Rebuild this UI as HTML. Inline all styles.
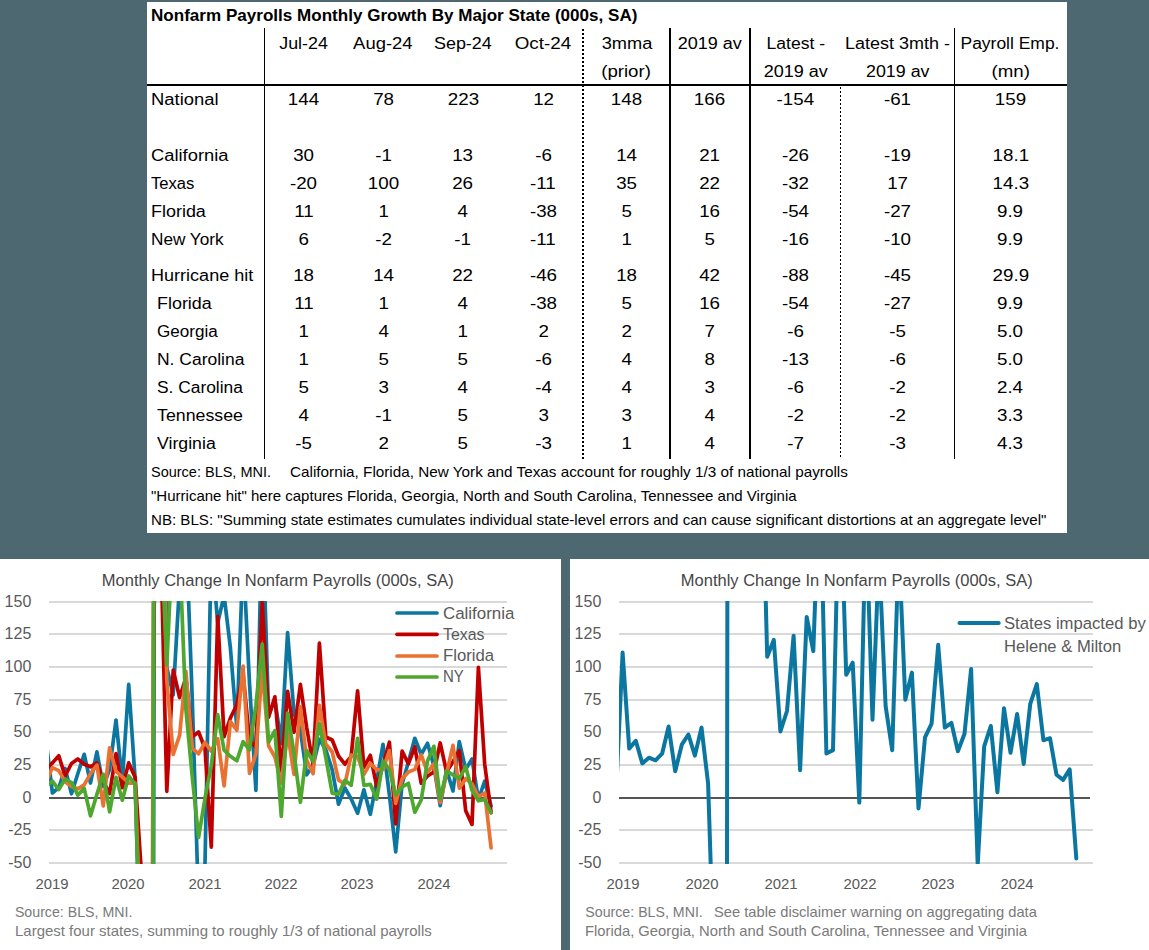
<!DOCTYPE html>
<html><head><meta charset="utf-8"><title>Nonfarm Payrolls Monthly Growth By Major State</title>
<style>
html,body{margin:0;padding:0;}
body{width:1149px;height:950px;background:#4d6870;position:relative;overflow:hidden;font-family:"Liberation Sans",sans-serif;}
.panel{position:absolute;background:#fff;}
.t{position:absolute;white-space:nowrap;color:#000;line-height:1;}
.g{color:#595959;}
.g2{color:#7a7a7a;}
.g3{color:#454545;}
svg{position:absolute;left:0;top:0;}
</style></head><body>
<div class="panel" style="left:147px;top:2px;width:920px;height:531px;"></div>
<div class="panel" style="left:0;top:559px;width:561px;height:391px;"></div>
<div class="panel" style="left:570px;top:559px;width:579px;height:391px;"></div>
<svg width="1149" height="950" viewBox="0 0 1149 950">
<defs><clipPath id="cl"><rect x="49" y="601" width="458" height="263"/></clipPath>
<clipPath id="cr"><rect x="619" y="601" width="474" height="263"/></clipPath></defs>
<g stroke="#000" fill="none" shape-rendering="crispEdges">
<line x1="264.5" y1="28" x2="264.5" y2="459" stroke-width="1"/>
<line x1="670" y1="28" x2="670" y2="459" stroke-width="2"/>
<line x1="750" y1="28" x2="750" y2="459" stroke-width="2"/>
<line x1="954.5" y1="28" x2="954.5" y2="459" stroke-width="1"/>
<line x1="147" y1="85" x2="1067" y2="85" stroke-width="2"/>
<line x1="583" y1="29" x2="583" y2="459" stroke-width="2" stroke-dasharray="2 2"/>
<line x1="840.5" y1="87" x2="840.5" y2="459" stroke-width="1" stroke-dasharray="2 2"/>
</g>
<g shape-rendering="crispEdges">
<rect x="49" y="601" width="458" height="2" fill="#d9d9d9"/>
<rect x="619" y="601" width="474" height="2" fill="#d9d9d9"/>
<rect x="49" y="633" width="458" height="2" fill="#d9d9d9"/>
<rect x="619" y="633" width="474" height="2" fill="#d9d9d9"/>
<rect x="49" y="666" width="458" height="2" fill="#d9d9d9"/>
<rect x="619" y="666" width="474" height="2" fill="#d9d9d9"/>
<rect x="49" y="699" width="458" height="2" fill="#d9d9d9"/>
<rect x="619" y="699" width="474" height="2" fill="#d9d9d9"/>
<rect x="49" y="731" width="458" height="2" fill="#d9d9d9"/>
<rect x="619" y="731" width="474" height="2" fill="#d9d9d9"/>
<rect x="49" y="764" width="458" height="2" fill="#d9d9d9"/>
<rect x="619" y="764" width="474" height="2" fill="#d9d9d9"/>
<rect x="49" y="829" width="458" height="2" fill="#d9d9d9"/>
<rect x="619" y="829" width="474" height="2" fill="#d9d9d9"/>
<rect x="49" y="862" width="458" height="2" fill="#d9d9d9"/>
<rect x="619" y="862" width="474" height="2" fill="#d9d9d9"/>
</g>
<g shape-rendering="crispEdges"><rect x="49" y="797" width="456" height="2" fill="#555"/><rect x="619" y="797" width="471" height="2" fill="#555"/></g>
<polyline clip-path="url(#cl)" fill="none" stroke="#0b76a0" stroke-width="3.7" stroke-linejoin="round" stroke-linecap="round" points="46.0,739.3 52.4,793.0 58.8,787.7 65.1,768.4 71.5,793.8 77.8,773.7 84.2,754.3 90.5,783.0 96.9,751.9 103.3,786.4 109.6,769.4 116.0,720.0 122.3,781.6 128.7,684.4 135.1,778.6 141.4,1007.5 147.8,3937.4 154.1,615.1 160.5,91.9 166.8,667.4 173.2,694.9 179.6,583.7 185.9,528.8 192.3,700.1 198.6,906.8 205.0,863.6 211.3,545.8 217.7,622.9 224.1,595.5 230.4,647.8 236.8,727.6 243.1,554.9 249.5,683.1 255.9,790.4 262.2,507.8 268.6,714.5 274.9,700.1 281.3,743.3 287.6,632.7 294.0,713.2 300.4,730.2 306.7,774.8 313.1,765.5 319.4,739.3 325.8,749.8 332.2,769.9 338.5,804.2 344.9,788.0 351.2,799.0 357.6,813.2 363.9,789.8 370.3,814.3 376.7,781.2 383.0,744.3 389.4,795.1 395.7,851.8 402.1,783.9 408.4,762.1 414.8,738.3 421.2,754.5 427.5,743.3 433.9,766.0 440.2,805.7 446.6,770.1 453.0,791.0 459.3,741.6 465.7,769.4 472.0,759.0 478.4,799.5 484.7,781.2 491.1,806.0"/>
<polyline clip-path="url(#cl)" fill="none" stroke="#c00000" stroke-width="3.7" stroke-linejoin="round" stroke-linecap="round" points="46.0,769.4 52.4,762.9 58.8,755.8 65.1,776.0 71.5,763.5 77.8,759.0 84.2,764.2 90.5,766.8 96.9,762.9 103.3,781.6 109.6,793.5 116.0,753.7 122.3,787.7 128.7,762.9 135.1,777.3 141.4,872.8 147.8,2498.6 154.1,471.2 160.5,532.7 166.8,791.3 173.2,670.0 179.6,697.5 185.9,677.9 192.3,736.7 198.6,732.0 205.0,748.5 211.3,847.2 217.7,616.4 224.1,736.7 230.4,718.0 236.8,704.9 243.1,673.9 249.5,740.0 255.9,747.2 262.2,602.0 268.6,717.1 274.9,696.8 281.3,772.0 287.6,691.3 294.0,732.3 300.4,684.4 306.7,727.8 313.1,764.2 319.4,643.2 325.8,737.0 332.2,740.0 338.5,756.0 344.9,764.2 351.2,756.3 357.6,690.8 363.9,767.2 370.3,755.3 376.7,786.3 383.0,765.5 389.4,742.2 395.7,823.8 402.1,751.2 408.4,763.8 414.8,746.8 421.2,783.3 427.5,776.0 433.9,772.0 440.2,743.0 446.6,772.0 453.0,761.6 459.3,750.6 465.7,810.8 472.0,824.4 478.4,667.4 484.7,764.2 491.1,812.6"/>
<polyline clip-path="url(#cl)" fill="none" stroke="#e97132" stroke-width="3.7" stroke-linejoin="round" stroke-linecap="round" points="46.0,782.5 52.4,767.6 58.8,770.7 65.1,781.7 71.5,786.4 77.8,788.8 84.2,784.9 90.5,773.7 96.9,765.1 103.3,806.0 109.6,747.8 116.0,771.4 122.3,776.9 128.7,783.2 135.1,783.2 141.4,955.2 147.8,2237.0 154.1,405.8 160.5,405.8 166.8,680.5 173.2,754.5 179.6,735.4 185.9,671.3 192.3,748.5 198.6,753.7 205.0,742.5 211.3,751.1 217.7,738.6 224.1,785.8 230.4,721.7 236.8,730.2 243.1,666.2 249.5,773.3 255.9,754.0 262.2,668.7 268.6,745.9 274.9,757.0 281.3,783.0 287.6,732.8 294.0,774.3 300.4,706.8 306.7,760.3 313.1,773.7 319.4,705.3 325.8,744.0 332.2,752.0 338.5,779.9 344.9,784.3 351.2,755.0 357.6,756.3 363.9,774.3 370.3,763.3 376.7,769.8 383.0,769.4 389.4,750.7 395.7,803.3 402.1,779.0 408.4,772.0 414.8,769.4 421.2,754.8 427.5,772.3 433.9,763.8 440.2,802.5 446.6,773.3 453.0,745.4 459.3,788.1 465.7,778.6 472.0,783.8 478.4,796.9 484.7,793.0 491.1,847.9"/>
<polyline clip-path="url(#cl)" fill="none" stroke="#4ea72e" stroke-width="3.7" stroke-linejoin="round" stroke-linecap="round" points="46.0,786.4 52.4,781.2 58.8,789.6 65.1,779.0 71.5,782.5 77.8,795.1 84.2,788.4 90.5,815.9 96.9,794.3 103.3,774.3 109.6,811.8 116.0,777.3 122.3,800.2 128.7,776.0 135.1,784.1 141.4,982.6 147.8,3152.6 154.1,405.8 160.5,520.9 166.8,664.8 173.2,526.1 179.6,552.3 185.9,709.3 192.3,777.3 198.6,837.4 205.0,798.2 211.3,765.5 217.7,714.7 224.1,750.1 230.4,756.3 236.8,760.8 243.1,741.7 249.5,749.8 255.9,705.3 262.2,644.2 268.6,742.0 274.9,730.7 281.3,816.3 287.6,713.2 294.0,753.1 300.4,802.3 306.7,750.7 313.1,761.3 319.4,723.8 325.8,757.7 332.2,793.2 338.5,794.3 344.9,780.3 351.2,785.3 357.6,738.3 363.9,785.3 370.3,784.3 376.7,799.2 383.0,761.3 389.4,769.9 395.7,794.8 402.1,787.0 408.4,783.3 414.8,812.3 421.2,800.0 427.5,761.1 433.9,746.3 440.2,798.9 446.6,771.0 453.0,774.8 459.3,778.6 465.7,766.7 472.0,790.4 478.4,800.8 484.7,799.5 491.1,812.6"/>
<polyline clip-path="url(#cr)" fill="none" stroke="#0b76a0" stroke-width="4" stroke-linejoin="round" stroke-linecap="round" points="616.0,795.6 622.6,652.6 629.2,748.6 635.8,740.8 642.3,763.4 648.9,757.7 655.5,760.3 662.1,753.7 668.6,726.5 675.2,771.3 681.8,744.7 688.4,734.5 694.9,755.6 701.5,727.6 708.1,783.4 714.6,985.2 721.2,5114.6 727.8,275.0 734.4,275.0 741.0,275.0 747.5,275.0 754.1,340.4 760.7,405.8 767.2,656.8 773.8,639.9 780.4,731.4 787.0,711.0 793.6,635.7 800.1,770.2 806.7,616.9 813.3,651.1 819.9,471.2 826.4,753.5 833.0,750.1 839.6,460.7 846.2,674.7 852.7,662.7 859.3,802.6 865.9,514.4 872.5,719.7 879.0,553.6 885.6,705.9 892.2,750.3 898.8,545.8 905.3,699.7 911.9,672.6 918.5,808.4 925.0,737.4 931.6,723.6 938.2,644.8 944.8,727.6 951.4,722.9 957.9,751.2 964.5,733.7 971.1,669.1 977.7,864.9 984.2,746.3 990.8,726.0 997.4,792.3 1004.0,708.2 1010.5,752.8 1017.1,714.0 1023.7,763.9 1030.2,704.2 1036.8,684.1 1043.4,740.3 1050.0,738.2 1056.5,774.7 1063.1,779.9 1069.7,769.4 1076.3,858.4"/>
<g stroke-width="3.7" stroke-linecap="round" fill="none">
<line x1="397" y1="613.0" x2="437" y2="613.0" stroke="#0b76a0"/>
<line x1="397" y1="634.3" x2="437" y2="634.3" stroke="#c00000"/>
<line x1="397" y1="656.0" x2="437" y2="656.0" stroke="#e97132"/>
<line x1="397" y1="677.0" x2="437" y2="677.0" stroke="#4ea72e"/>
<line x1="959.5" y1="623.1" x2="998.7" y2="623.1" stroke="#0b76a0" stroke-width="4"/>
</g>
</svg>
<div class="t " style="left:150.5px;top:7.2px;font-size:17.3px;transform:scaleX(0.9875);transform-origin:left center;font-weight:bold;">Nonfarm Payrolls Monthly Growth By Major State (000s, SA)</div>
<div class="t " style="left:280.2px;top:35.1px;font-size:17.3px;transform:scaleX(1.0335);transform-origin:center center;">Jul-24</div>
<div class="t " style="left:355.4px;top:35.1px;font-size:17.3px;transform:scaleX(1.0684);transform-origin:center center;">Aug-24</div>
<div class="t " style="left:435.1px;top:35.1px;font-size:17.3px;transform:scaleX(1.0379);transform-origin:center center;">Sep-24</div>
<div class="t " style="left:517.3px;top:35.1px;font-size:17.3px;transform:scaleX(1.0902);transform-origin:center center;">Oct-24</div>
<div class="t " style="left:602.5px;top:35.1px;font-size:17.3px;transform:scaleX(1.0548);transform-origin:center center;">3mma</div>
<div class="t " style="left:678.8px;top:35.1px;font-size:17.3px;transform:scaleX(1.0444);transform-origin:center center;">2019 av</div>
<div class="t " style="left:766.5px;top:35.1px;font-size:17.3px;transform:scaleX(1.0157);transform-origin:center center;">Latest -</div>
<div class="t " style="left:846.9px;top:35.1px;font-size:17.3px;transform:scaleX(1.0400);transform-origin:center center;">Latest 3mth -</div>
<div class="t " style="left:961.3px;top:35.1px;font-size:17.3px;transform:scaleX(1.0106);transform-origin:center center;">Payroll Emp.</div>
<div class="t " style="left:603.4px;top:62.7px;font-size:17.3px;transform:scaleX(1.0795);transform-origin:center center;">(prior)</div>
<div class="t " style="left:764.5px;top:62.7px;font-size:17.3px;transform:scaleX(1.0428);transform-origin:center center;">2019 av</div>
<div class="t " style="left:866.6px;top:62.7px;font-size:17.3px;transform:scaleX(1.0314);transform-origin:center center;">2019 av</div>
<div class="t " style="left:992.5px;top:62.7px;font-size:17.3px;transform:scaleX(1.0800);transform-origin:center center;">(mn)</div>
<div class="t " style="left:151.0px;top:90.9px;font-size:17.3px;transform:scaleX(1.0650);transform-origin:left center;">National</div>
<div class="t " style="left:289.4px;top:90.9px;font-size:17.3px;transform:scaleX(1.0850);transform-origin:center center;">144</div>
<div class="t " style="left:373.7px;top:90.9px;font-size:17.3px;transform:scaleX(1.0850);transform-origin:center center;">78</div>
<div class="t " style="left:448.6px;top:90.9px;font-size:17.3px;transform:scaleX(1.0850);transform-origin:center center;">223</div>
<div class="t " style="left:533.7px;top:90.9px;font-size:17.3px;transform:scaleX(1.0850);transform-origin:center center;">12</div>
<div class="t " style="left:612.1px;top:90.9px;font-size:17.3px;transform:scaleX(1.0850);transform-origin:center center;">148</div>
<div class="t " style="left:695.2px;top:90.9px;font-size:17.3px;transform:scaleX(1.0850);transform-origin:center center;">166</div>
<div class="t " style="left:778.0px;top:90.9px;font-size:17.3px;transform:scaleX(1.0850);transform-origin:center center;">-154</div>
<div class="t " style="left:884.9px;top:90.9px;font-size:17.3px;transform:scaleX(1.0850);transform-origin:center center;">-61</div>
<div class="t " style="left:995.9px;top:90.9px;font-size:17.3px;transform:scaleX(1.0850);transform-origin:center center;">159</div>
<div class="t " style="left:151.0px;top:146.9px;font-size:17.3px;transform:scaleX(1.0619);transform-origin:left center;">California</div>
<div class="t " style="left:294.2px;top:146.9px;font-size:17.3px;transform:scaleX(1.0850);transform-origin:center center;">30</div>
<div class="t " style="left:375.6px;top:146.9px;font-size:17.3px;transform:scaleX(1.0850);transform-origin:center center;">-1</div>
<div class="t " style="left:453.4px;top:146.9px;font-size:17.3px;transform:scaleX(1.0850);transform-origin:center center;">13</div>
<div class="t " style="left:535.6px;top:146.9px;font-size:17.3px;transform:scaleX(1.0850);transform-origin:center center;">-6</div>
<div class="t " style="left:616.9px;top:146.9px;font-size:17.3px;transform:scaleX(1.0850);transform-origin:center center;">14</div>
<div class="t " style="left:700.0px;top:146.9px;font-size:17.3px;transform:scaleX(1.0850);transform-origin:center center;">21</div>
<div class="t " style="left:782.8px;top:146.9px;font-size:17.3px;transform:scaleX(1.0850);transform-origin:center center;">-26</div>
<div class="t " style="left:884.9px;top:146.9px;font-size:17.3px;transform:scaleX(1.0850);transform-origin:center center;">-19</div>
<div class="t " style="left:993.5px;top:146.9px;font-size:17.3px;transform:scaleX(1.0850);transform-origin:center center;">18.1</div>
<div class="t " style="left:151.0px;top:174.9px;font-size:17.3px;transform:scaleX(0.9603);transform-origin:left center;">Texas</div>
<div class="t " style="left:291.3px;top:174.9px;font-size:17.3px;transform:scaleX(1.0850);transform-origin:center center;">-20</div>
<div class="t " style="left:368.9px;top:174.9px;font-size:17.3px;transform:scaleX(1.0850);transform-origin:center center;">100</div>
<div class="t " style="left:453.4px;top:174.9px;font-size:17.3px;transform:scaleX(1.0850);transform-origin:center center;">26</div>
<div class="t " style="left:531.4px;top:174.9px;font-size:17.3px;transform:scaleX(1.0850);transform-origin:center center;">-11</div>
<div class="t " style="left:616.9px;top:174.9px;font-size:17.3px;transform:scaleX(1.0850);transform-origin:center center;">35</div>
<div class="t " style="left:700.0px;top:174.9px;font-size:17.3px;transform:scaleX(1.0850);transform-origin:center center;">22</div>
<div class="t " style="left:782.8px;top:174.9px;font-size:17.3px;transform:scaleX(1.0850);transform-origin:center center;">-32</div>
<div class="t " style="left:887.8px;top:174.9px;font-size:17.3px;transform:scaleX(1.0850);transform-origin:center center;">17</div>
<div class="t " style="left:993.5px;top:174.9px;font-size:17.3px;transform:scaleX(1.0850);transform-origin:center center;">14.3</div>
<div class="t " style="left:151.0px;top:202.9px;font-size:17.3px;transform:scaleX(1.0382);transform-origin:left center;">Florida</div>
<div class="t " style="left:294.8px;top:202.9px;font-size:17.3px;transform:scaleX(1.0850);transform-origin:center center;">11</div>
<div class="t " style="left:378.5px;top:202.9px;font-size:17.3px;transform:scaleX(1.0850);transform-origin:center center;">1</div>
<div class="t " style="left:458.2px;top:202.9px;font-size:17.3px;transform:scaleX(1.0850);transform-origin:center center;">4</div>
<div class="t " style="left:530.8px;top:202.9px;font-size:17.3px;transform:scaleX(1.0850);transform-origin:center center;">-38</div>
<div class="t " style="left:621.7px;top:202.9px;font-size:17.3px;transform:scaleX(1.0850);transform-origin:center center;">5</div>
<div class="t " style="left:700.0px;top:202.9px;font-size:17.3px;transform:scaleX(1.0850);transform-origin:center center;">16</div>
<div class="t " style="left:782.8px;top:202.9px;font-size:17.3px;transform:scaleX(1.0850);transform-origin:center center;">-54</div>
<div class="t " style="left:884.9px;top:202.9px;font-size:17.3px;transform:scaleX(1.0850);transform-origin:center center;">-27</div>
<div class="t " style="left:998.3px;top:202.9px;font-size:17.3px;transform:scaleX(1.0850);transform-origin:center center;">9.9</div>
<div class="t " style="left:151.0px;top:230.9px;font-size:17.3px;transform:scaleX(0.9947);transform-origin:left center;">New York</div>
<div class="t " style="left:299.0px;top:230.9px;font-size:17.3px;transform:scaleX(1.0850);transform-origin:center center;">6</div>
<div class="t " style="left:375.6px;top:230.9px;font-size:17.3px;transform:scaleX(1.0850);transform-origin:center center;">-2</div>
<div class="t " style="left:455.3px;top:230.9px;font-size:17.3px;transform:scaleX(1.0850);transform-origin:center center;">-1</div>
<div class="t " style="left:531.4px;top:230.9px;font-size:17.3px;transform:scaleX(1.0850);transform-origin:center center;">-11</div>
<div class="t " style="left:621.7px;top:230.9px;font-size:17.3px;transform:scaleX(1.0850);transform-origin:center center;">1</div>
<div class="t " style="left:704.8px;top:230.9px;font-size:17.3px;transform:scaleX(1.0850);transform-origin:center center;">5</div>
<div class="t " style="left:782.8px;top:230.9px;font-size:17.3px;transform:scaleX(1.0850);transform-origin:center center;">-16</div>
<div class="t " style="left:884.9px;top:230.9px;font-size:17.3px;transform:scaleX(1.0850);transform-origin:center center;">-10</div>
<div class="t " style="left:998.3px;top:230.9px;font-size:17.3px;transform:scaleX(1.0850);transform-origin:center center;">9.9</div>
<div class="t " style="left:151.0px;top:266.9px;font-size:17.3px;transform:scaleX(1.0441);transform-origin:left center;">Hurricane hit</div>
<div class="t " style="left:294.2px;top:266.9px;font-size:17.3px;transform:scaleX(1.0850);transform-origin:center center;">18</div>
<div class="t " style="left:373.7px;top:266.9px;font-size:17.3px;transform:scaleX(1.0850);transform-origin:center center;">14</div>
<div class="t " style="left:453.4px;top:266.9px;font-size:17.3px;transform:scaleX(1.0850);transform-origin:center center;">22</div>
<div class="t " style="left:530.8px;top:266.9px;font-size:17.3px;transform:scaleX(1.0850);transform-origin:center center;">-46</div>
<div class="t " style="left:616.9px;top:266.9px;font-size:17.3px;transform:scaleX(1.0850);transform-origin:center center;">18</div>
<div class="t " style="left:700.0px;top:266.9px;font-size:17.3px;transform:scaleX(1.0850);transform-origin:center center;">42</div>
<div class="t " style="left:782.8px;top:266.9px;font-size:17.3px;transform:scaleX(1.0850);transform-origin:center center;">-88</div>
<div class="t " style="left:884.9px;top:266.9px;font-size:17.3px;transform:scaleX(1.0850);transform-origin:center center;">-45</div>
<div class="t " style="left:993.5px;top:266.9px;font-size:17.3px;transform:scaleX(1.0850);transform-origin:center center;">29.9</div>
<div class="t " style="left:157.0px;top:294.9px;font-size:17.3px;transform:scaleX(1.0363);transform-origin:left center;">Florida</div>
<div class="t " style="left:294.8px;top:294.9px;font-size:17.3px;transform:scaleX(1.0850);transform-origin:center center;">11</div>
<div class="t " style="left:378.5px;top:294.9px;font-size:17.3px;transform:scaleX(1.0850);transform-origin:center center;">1</div>
<div class="t " style="left:458.2px;top:294.9px;font-size:17.3px;transform:scaleX(1.0850);transform-origin:center center;">4</div>
<div class="t " style="left:530.8px;top:294.9px;font-size:17.3px;transform:scaleX(1.0850);transform-origin:center center;">-38</div>
<div class="t " style="left:621.7px;top:294.9px;font-size:17.3px;transform:scaleX(1.0850);transform-origin:center center;">5</div>
<div class="t " style="left:700.0px;top:294.9px;font-size:17.3px;transform:scaleX(1.0850);transform-origin:center center;">16</div>
<div class="t " style="left:782.8px;top:294.9px;font-size:17.3px;transform:scaleX(1.0850);transform-origin:center center;">-54</div>
<div class="t " style="left:884.9px;top:294.9px;font-size:17.3px;transform:scaleX(1.0850);transform-origin:center center;">-27</div>
<div class="t " style="left:998.3px;top:294.9px;font-size:17.3px;transform:scaleX(1.0850);transform-origin:center center;">9.9</div>
<div class="t " style="left:157.0px;top:322.9px;font-size:17.3px;transform:scaleX(0.9879);transform-origin:left center;">Georgia</div>
<div class="t " style="left:299.0px;top:322.9px;font-size:17.3px;transform:scaleX(1.0850);transform-origin:center center;">1</div>
<div class="t " style="left:378.5px;top:322.9px;font-size:17.3px;transform:scaleX(1.0850);transform-origin:center center;">4</div>
<div class="t " style="left:458.2px;top:322.9px;font-size:17.3px;transform:scaleX(1.0850);transform-origin:center center;">1</div>
<div class="t " style="left:538.5px;top:322.9px;font-size:17.3px;transform:scaleX(1.0850);transform-origin:center center;">2</div>
<div class="t " style="left:621.7px;top:322.9px;font-size:17.3px;transform:scaleX(1.0850);transform-origin:center center;">2</div>
<div class="t " style="left:704.8px;top:322.9px;font-size:17.3px;transform:scaleX(1.0850);transform-origin:center center;">7</div>
<div class="t " style="left:787.6px;top:322.9px;font-size:17.3px;transform:scaleX(1.0850);transform-origin:center center;">-6</div>
<div class="t " style="left:889.7px;top:322.9px;font-size:17.3px;transform:scaleX(1.0850);transform-origin:center center;">-5</div>
<div class="t " style="left:998.3px;top:322.9px;font-size:17.3px;transform:scaleX(1.0850);transform-origin:center center;">5.0</div>
<div class="t " style="left:157.0px;top:350.9px;font-size:17.3px;transform:scaleX(1.0112);transform-origin:left center;">N. Carolina</div>
<div class="t " style="left:299.0px;top:350.9px;font-size:17.3px;transform:scaleX(1.0850);transform-origin:center center;">1</div>
<div class="t " style="left:378.5px;top:350.9px;font-size:17.3px;transform:scaleX(1.0850);transform-origin:center center;">5</div>
<div class="t " style="left:458.2px;top:350.9px;font-size:17.3px;transform:scaleX(1.0850);transform-origin:center center;">5</div>
<div class="t " style="left:535.6px;top:350.9px;font-size:17.3px;transform:scaleX(1.0850);transform-origin:center center;">-6</div>
<div class="t " style="left:621.7px;top:350.9px;font-size:17.3px;transform:scaleX(1.0850);transform-origin:center center;">4</div>
<div class="t " style="left:704.8px;top:350.9px;font-size:17.3px;transform:scaleX(1.0850);transform-origin:center center;">8</div>
<div class="t " style="left:782.8px;top:350.9px;font-size:17.3px;transform:scaleX(1.0850);transform-origin:center center;">-13</div>
<div class="t " style="left:889.7px;top:350.9px;font-size:17.3px;transform:scaleX(1.0850);transform-origin:center center;">-6</div>
<div class="t " style="left:998.3px;top:350.9px;font-size:17.3px;transform:scaleX(1.0850);transform-origin:center center;">5.0</div>
<div class="t " style="left:157.0px;top:378.9px;font-size:17.3px;transform:scaleX(1.0049);transform-origin:left center;">S. Carolina</div>
<div class="t " style="left:299.0px;top:378.9px;font-size:17.3px;transform:scaleX(1.0850);transform-origin:center center;">5</div>
<div class="t " style="left:378.5px;top:378.9px;font-size:17.3px;transform:scaleX(1.0850);transform-origin:center center;">3</div>
<div class="t " style="left:458.2px;top:378.9px;font-size:17.3px;transform:scaleX(1.0850);transform-origin:center center;">4</div>
<div class="t " style="left:535.6px;top:378.9px;font-size:17.3px;transform:scaleX(1.0850);transform-origin:center center;">-4</div>
<div class="t " style="left:621.7px;top:378.9px;font-size:17.3px;transform:scaleX(1.0850);transform-origin:center center;">4</div>
<div class="t " style="left:704.8px;top:378.9px;font-size:17.3px;transform:scaleX(1.0850);transform-origin:center center;">3</div>
<div class="t " style="left:787.6px;top:378.9px;font-size:17.3px;transform:scaleX(1.0850);transform-origin:center center;">-6</div>
<div class="t " style="left:889.7px;top:378.9px;font-size:17.3px;transform:scaleX(1.0850);transform-origin:center center;">-2</div>
<div class="t " style="left:998.3px;top:378.9px;font-size:17.3px;transform:scaleX(1.0850);transform-origin:center center;">2.4</div>
<div class="t " style="left:157.0px;top:406.9px;font-size:17.3px;transform:scaleX(1.0277);transform-origin:left center;">Tennessee</div>
<div class="t " style="left:299.0px;top:406.9px;font-size:17.3px;transform:scaleX(1.0850);transform-origin:center center;">4</div>
<div class="t " style="left:375.6px;top:406.9px;font-size:17.3px;transform:scaleX(1.0850);transform-origin:center center;">-1</div>
<div class="t " style="left:458.2px;top:406.9px;font-size:17.3px;transform:scaleX(1.0850);transform-origin:center center;">5</div>
<div class="t " style="left:538.5px;top:406.9px;font-size:17.3px;transform:scaleX(1.0850);transform-origin:center center;">3</div>
<div class="t " style="left:621.7px;top:406.9px;font-size:17.3px;transform:scaleX(1.0850);transform-origin:center center;">3</div>
<div class="t " style="left:704.8px;top:406.9px;font-size:17.3px;transform:scaleX(1.0850);transform-origin:center center;">4</div>
<div class="t " style="left:787.6px;top:406.9px;font-size:17.3px;transform:scaleX(1.0850);transform-origin:center center;">-2</div>
<div class="t " style="left:889.7px;top:406.9px;font-size:17.3px;transform:scaleX(1.0850);transform-origin:center center;">-2</div>
<div class="t " style="left:998.3px;top:406.9px;font-size:17.3px;transform:scaleX(1.0850);transform-origin:center center;">3.3</div>
<div class="t " style="left:157.0px;top:434.9px;font-size:17.3px;transform:scaleX(1.0247);transform-origin:left center;">Virginia</div>
<div class="t " style="left:296.1px;top:434.9px;font-size:17.3px;transform:scaleX(1.0850);transform-origin:center center;">-5</div>
<div class="t " style="left:378.5px;top:434.9px;font-size:17.3px;transform:scaleX(1.0850);transform-origin:center center;">2</div>
<div class="t " style="left:458.2px;top:434.9px;font-size:17.3px;transform:scaleX(1.0850);transform-origin:center center;">5</div>
<div class="t " style="left:535.6px;top:434.9px;font-size:17.3px;transform:scaleX(1.0850);transform-origin:center center;">-3</div>
<div class="t " style="left:621.7px;top:434.9px;font-size:17.3px;transform:scaleX(1.0850);transform-origin:center center;">1</div>
<div class="t " style="left:704.8px;top:434.9px;font-size:17.3px;transform:scaleX(1.0850);transform-origin:center center;">4</div>
<div class="t " style="left:787.6px;top:434.9px;font-size:17.3px;transform:scaleX(1.0850);transform-origin:center center;">-7</div>
<div class="t " style="left:889.7px;top:434.9px;font-size:17.3px;transform:scaleX(1.0850);transform-origin:center center;">-3</div>
<div class="t " style="left:998.3px;top:434.9px;font-size:17.3px;transform:scaleX(1.0850);transform-origin:center center;">4.3</div>
<div class="t " style="left:150.7px;top:465.4px;font-size:14.4px;transform:scaleX(1.0072);transform-origin:left center;">Source: BLS, MNI.</div>
<div class="t " style="left:289.8px;top:465.4px;font-size:14.4px;transform:scaleX(1.0620);transform-origin:left center;">California, Florida, New York and Texas account for roughly 1/3 of national payrolls</div>
<div class="t " style="left:150.7px;top:489.2px;font-size:14.4px;transform:scaleX(1.0440);transform-origin:left center;">"Hurricane hit" here captures Florida, Georgia, North and South Carolina, Tennessee and Virginia</div>
<div class="t " style="left:150.7px;top:512.5px;font-size:14.4px;transform:scaleX(1.0494);transform-origin:left center;">NB: BLS: "Summing state estimates cumulates individual state-level errors and can cause significant distortions at an aggregate level"</div>
<div class="t g3" style="left:104.0px;top:571.5px;font-size:16.3px;transform:scaleX(1.0124);transform-origin:center center;">Monthly Change In Nonfarm Payrolls (000s, SA)</div>
<div class="t g3" style="left:683.1px;top:571.5px;font-size:16.3px;transform:scaleX(1.0124);transform-origin:center center;">Monthly Change In Nonfarm Payrolls (000s, SA)</div>
<div class="t g" style="left:4.6px;top:593.7px;font-size:16.0px;">150</div>
<div class="t g" style="left:574.6px;top:593.7px;font-size:16.0px;">150</div>
<div class="t g" style="left:4.6px;top:625.7px;font-size:16.0px;">125</div>
<div class="t g" style="left:574.6px;top:625.7px;font-size:16.0px;">125</div>
<div class="t g" style="left:4.6px;top:658.7px;font-size:16.0px;">100</div>
<div class="t g" style="left:574.6px;top:658.7px;font-size:16.0px;">100</div>
<div class="t g" style="left:13.5px;top:691.7px;font-size:16.0px;">75</div>
<div class="t g" style="left:583.5px;top:691.7px;font-size:16.0px;">75</div>
<div class="t g" style="left:13.5px;top:723.7px;font-size:16.0px;">50</div>
<div class="t g" style="left:583.5px;top:723.7px;font-size:16.0px;">50</div>
<div class="t g" style="left:13.5px;top:756.7px;font-size:16.0px;">25</div>
<div class="t g" style="left:583.5px;top:756.7px;font-size:16.0px;">25</div>
<div class="t g" style="left:22.4px;top:789.7px;font-size:16.0px;">0</div>
<div class="t g" style="left:592.4px;top:789.7px;font-size:16.0px;">0</div>
<div class="t g" style="left:8.2px;top:821.7px;font-size:16.0px;">-25</div>
<div class="t g" style="left:578.2px;top:821.7px;font-size:16.0px;">-25</div>
<div class="t g" style="left:8.2px;top:854.7px;font-size:16.0px;">-50</div>
<div class="t g" style="left:578.2px;top:854.7px;font-size:16.0px;">-50</div>
<div class="t g" style="left:35.0px;top:875.8px;font-size:15.3px;transform:scaleX(0.9725);transform-origin:center center;">2019</div>
<div class="t g" style="left:605.8px;top:875.8px;font-size:15.3px;transform:scaleX(0.9725);transform-origin:center center;">2019</div>
<div class="t g" style="left:111.3px;top:875.8px;font-size:15.3px;transform:scaleX(0.9725);transform-origin:center center;">2020</div>
<div class="t g" style="left:684.7px;top:875.8px;font-size:15.3px;transform:scaleX(0.9725);transform-origin:center center;">2020</div>
<div class="t g" style="left:187.6px;top:875.8px;font-size:15.3px;transform:scaleX(0.9725);transform-origin:center center;">2021</div>
<div class="t g" style="left:763.6px;top:875.8px;font-size:15.3px;transform:scaleX(0.9725);transform-origin:center center;">2021</div>
<div class="t g" style="left:263.9px;top:875.8px;font-size:15.3px;transform:scaleX(0.9725);transform-origin:center center;">2022</div>
<div class="t g" style="left:842.5px;top:875.8px;font-size:15.3px;transform:scaleX(0.9725);transform-origin:center center;">2022</div>
<div class="t g" style="left:340.2px;top:875.8px;font-size:15.3px;transform:scaleX(0.9725);transform-origin:center center;">2023</div>
<div class="t g" style="left:921.4px;top:875.8px;font-size:15.3px;transform:scaleX(0.9725);transform-origin:center center;">2023</div>
<div class="t g" style="left:416.5px;top:875.8px;font-size:15.3px;transform:scaleX(0.9725);transform-origin:center center;">2024</div>
<div class="t g" style="left:1000.3px;top:875.8px;font-size:15.3px;transform:scaleX(0.9725);transform-origin:center center;">2024</div>
<div class="t g" style="left:442.6px;top:604.8px;font-size:16.3px;transform:scaleX(1.0384);transform-origin:left center;">California</div>
<div class="t g" style="left:442.6px;top:625.6px;font-size:16.3px;transform:scaleX(0.9770);transform-origin:left center;">Texas</div>
<div class="t g" style="left:442.6px;top:646.8px;font-size:16.3px;transform:scaleX(1.0256);transform-origin:left center;">Florida</div>
<div class="t g" style="left:442.6px;top:667.6px;font-size:16.3px;transform:scaleX(0.9186);transform-origin:left center;">NY</div>
<div class="t g" style="left:1003.7px;top:614.9px;font-size:16.3px;transform:scaleX(1.0236);transform-origin:left center;">States impacted by</div>
<div class="t g" style="left:1003.7px;top:638.0px;font-size:16.3px;transform:scaleX(1.0194);transform-origin:left center;">Helene &amp; Milton</div>
<div class="t g2" style="left:14.9px;top:905.0px;font-size:14.2px;">Source: BLS, MNI.</div>
<div class="t g2" style="left:14.9px;top:923.8px;font-size:14.2px;transform:scaleX(1.0548);transform-origin:left center;">Largest four states, summing to roughly 1/3 of national payrolls</div>
<div class="t g2" style="left:585.3px;top:905.0px;font-size:14.2px;">Source: BLS, MNI.</div>
<div class="t g2" style="left:714.1px;top:905.0px;font-size:14.2px;transform:scaleX(1.0362);transform-origin:left center;">See table disclaimer warning on aggregating data</div>
<div class="t g2" style="left:585.3px;top:923.8px;font-size:14.2px;transform:scaleX(1.0408);transform-origin:left center;">Florida, Georgia, North and South Carolina, Tennessee and Virginia</div>
</body></html>
